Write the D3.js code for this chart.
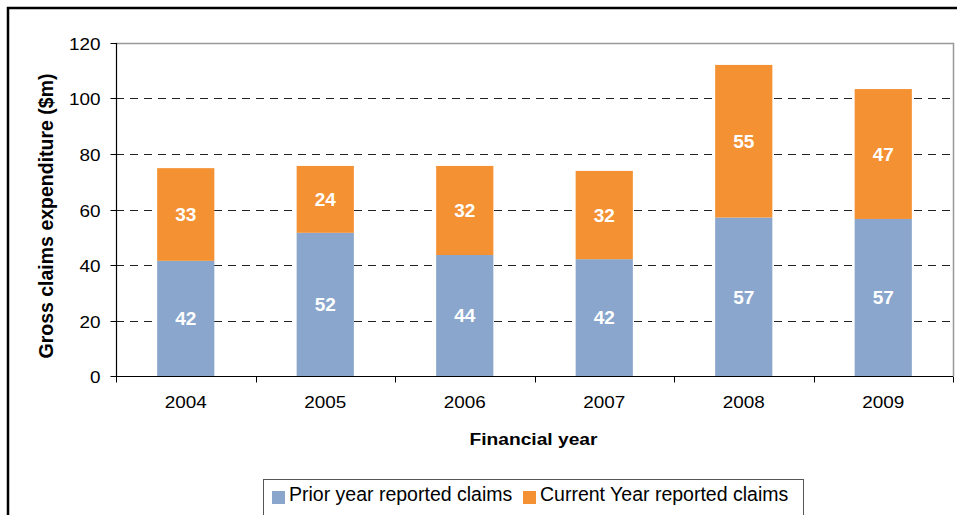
<!DOCTYPE html>
<html>
<head>
<meta charset="utf-8">
<script src="https://cdn.jsdelivr.net/npm/d3@7"></script>
<style>
  html, body { margin: 0; padding: 0; background: #fff; }
  svg { display: block; font-family: "Liberation Sans", Arial, sans-serif; }
</style>
</head>
<body>
<svg id="chart" width="957" height="515"></svg>
<script>
const categories = ["2004", "2005", "2006", "2007", "2008", "2009"];
const priorValues = [41.5, 51.6, 43.6, 42.1, 57.1, 56.6];
const currentValues = [33.4, 24.1, 32.1, 31.8, 55.0, 46.8];
const priorLabels = ["42", "52", "44", "42", "57", "57"];
const currentLabels = ["33", "24", "32", "32", "55", "47"];
const yTicks = [0, 20, 40, 60, 80, 100, 120];
const seriesNames = ["Prior year reported claims", "Current Year reported claims"];
const colors = ["#8AA6CC", "#F39133"];

const svg = d3.select("#chart");

// outer frame
svg.append("rect").attr("x", 8).attr("y", 8).attr("width", 960).attr("height", 520)
  .attr("fill", "none").attr("stroke", "#000").attr("stroke-width", 2.5);

const m = { left: 116, top: 43, right: 953, bottom: 376 };
const x = d3.scaleBand().domain(categories).range([m.left, m.right]).paddingInner(0.59).paddingOuter(0.295);
const xb = d3.scaleBand().domain(categories).range([m.left, m.right]);
const y = d3.scaleLinear().domain([0, 120]).range([m.bottom, m.top]);

const TICK_FS = 16.3, TICK_SX = 1.16;

// gridlines
svg.append("g").selectAll("line").data(yTicks.filter(t => t > 0 && t < 120)).join("line")
  .attr("x1", m.left).attr("x2", m.right)
  .attr("y1", d => Math.round(y(d)) + 0.5).attr("y2", d => Math.round(y(d)) + 0.5)
  .attr("stroke", "#222").attr("stroke-width", 1).attr("stroke-dasharray", "8,6");

// plot border top/right (gray)
svg.append("path")
  .attr("d", `M${m.left},${m.top + 0.5}H${m.right + 0.5}V${m.bottom}`)
  .attr("fill", "none").attr("stroke", "#999").attr("stroke-width", 1.5);

// stacked bars
const stackData = categories.map((c, i) => ({ cat: c, prior: priorValues[i], current: currentValues[i] }));
const stack = d3.stack().keys(["prior", "current"])(stackData);
const labelsArr = [priorLabels, currentLabels];
stack.forEach((layer, li) => {
  const g = svg.append("g");
  g.selectAll("rect").data(layer).join("rect")
    .attr("x", d => x(d.data.cat)).attr("width", x.bandwidth())
    .attr("y", d => y(d[1])).attr("height", d => y(d[0]) - y(d[1]))
    .attr("fill", colors[li]);
  g.selectAll("text").data(layer).join("text")
    .attr("x", d => x(d.data.cat) + x.bandwidth() / 2)
    .attr("y", d => (y(d[0]) + y(d[1])) / 2 + 6.8)
    .attr("text-anchor", "middle").attr("fill", "#fff")
    .attr("font-weight", "bold").attr("font-size", 19)
    .text((d, i) => labelsArr[li][i]);
});

// y axis
const gy = svg.append("g").attr("transform", `translate(${m.left + 0.5},0)`);
gy.append("line").attr("y1", m.top).attr("y2", m.bottom).attr("stroke", "#000").attr("stroke-width", 1.2);
const yt = gy.selectAll("g.tick").data(yTicks).join("g").attr("class", "tick")
  .attr("transform", d => `translate(0,${Math.round(y(d)) + 0.5})`);
yt.append("line").attr("x1", -6).attr("x2", 0).attr("stroke", "#000");
yt.append("text").attr("transform", `translate(-16,6) scale(${TICK_SX},1)`)
  .attr("text-anchor", "end").attr("font-size", TICK_FS).attr("fill", "#000")
  .text(d => d);

// x axis
const gx = svg.append("g").attr("transform", `translate(0,${m.bottom + 0.5})`);
gx.append("line").attr("x1", m.left).attr("x2", m.right).attr("stroke", "#000").attr("stroke-width", 1.2);
const bounds = categories.map(c => xb(c)).concat([m.right]);
gx.selectAll("line.tk").data(bounds).join("line").attr("class", "tk")
  .attr("x1", d => Math.round(d) + 0.5).attr("x2", d => Math.round(d) + 0.5)
  .attr("y1", 0).attr("y2", 6).attr("stroke", "#000");
gx.selectAll("text").data(categories).join("text")
  .attr("transform", d => `translate(${xb(d) + xb.bandwidth() / 2},31.5) scale(${TICK_SX},1)`)
  .attr("text-anchor", "middle").attr("font-size", TICK_FS).attr("fill", "#000")
  .text(d => d);

// axis titles
svg.append("text").attr("transform", `translate(${(m.left + m.right) / 2 - 1},445) scale(1.13,1)`)
  .attr("text-anchor", "middle").attr("font-weight", "bold").attr("font-size", 17)
  .text("Financial year");
svg.append("text").attr("transform", `translate(53,216) rotate(-90)`)
  .attr("text-anchor", "middle").attr("font-weight", "bold").attr("font-size", 19.5)
  .text("Gross claims expenditure ($m)");

// legend
const lg = svg.append("g");
lg.append("rect").attr("x", 263.5).attr("y", 479.5).attr("width", 540).attr("height", 42)
  .attr("fill", "#fff").attr("stroke", "#555").attr("stroke-width", 1);
const legX = [272, 523];
seriesNames.forEach((s, i) => {
  lg.append("rect").attr("x", legX[i]).attr("y", 491).attr("width", 13).attr("height", 13).attr("fill", colors[i]);
  lg.append("text").attr("x", legX[i] + 17).attr("y", 501).attr("font-size", 19.5).attr("fill", "#000").text(s);
});
</script>
</body>
</html>
